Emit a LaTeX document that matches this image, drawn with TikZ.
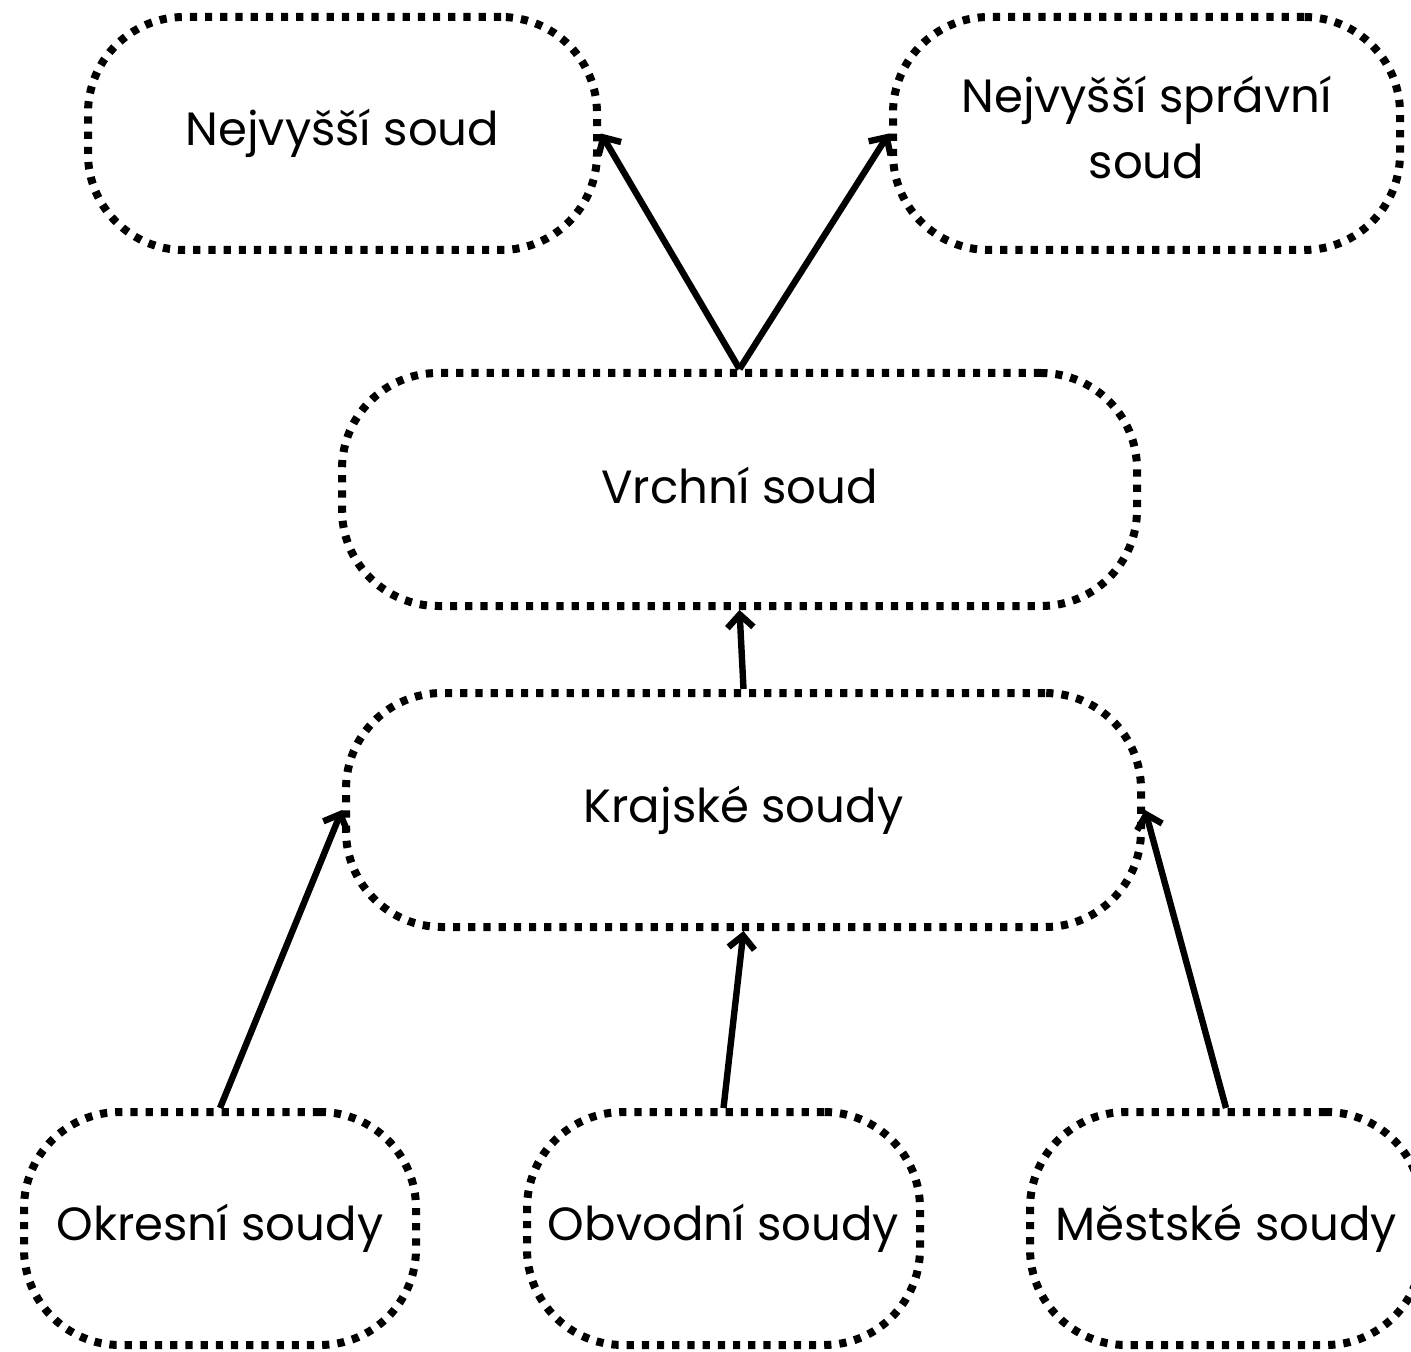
\documentclass[tikz,border=0pt]{standalone}
\usepackage{fontspec}
\setmainfont{Poppins}
\usetikzlibrary{arrows.meta}
\begin{document}
\begin{tikzpicture}[x=0.5pt,y=-0.5pt,
  court/.style={draw=black, line width=4pt, dash pattern=on 3.6pt off 4pt,
    rounded corners=48pt, inner sep=0pt, font=\fontsize{23.3}{33}\selectfont, align=center},
  link/.style={draw=black, line width=3.2pt, -{Straight Barb[length=6.5pt,width=13pt,line width=3.2pt]}}]
\useasboundingbox (0,0) rectangle (1411,1352);
\clip (0,0) rectangle (1411,1352);
\node[court, minimum width=254.5pt, minimum height=116.5pt] (ns) at (342.5,133.5) {Nejvyšší soud};
\node[court, minimum width=253.5pt, minimum height=116.5pt] (nss) at (1146.5,133.5) {};
\node[font=\fontsize{23.3}{33}\selectfont, align=center, inner sep=0pt] (nsst) at (1146.5,127) {Nejvyšší správní\\soud};
\node[court, minimum width=397.5pt, minimum height=116.5pt] (vr) at (739.5,489.5) {};
\node[font=\fontsize{23.3}{33}\selectfont, inner sep=0pt] (vrt) at (739.5,485.5) {Vrchní soud};
\node[court, minimum width=397.5pt, minimum height=117pt] (kr) at (743.5,810) {Krajské soudy};
\node[court, minimum width=196pt, minimum height=116.5pt] (ok) at (220,1228.5) {Okresní soudy};
\node[court, minimum width=196.5pt, minimum height=116.5pt] (ob) at (723.5,1228.5) {Obvodní soudy};
\node[court, minimum width=196pt, minimum height=116.5pt] (me) at (1226,1228.5) {Městské soudy};
\draw[link] (vr.north) -- (ns.east);
\draw[link] (vr.north) -- (nss.west);
\draw[link] (kr.north) -- (vr.south);
\draw[link] (ok.north) -- (kr.west);
\draw[link] (ob.north) -- (kr.south);
\draw[link] (me.north) -- (kr.east);
\end{tikzpicture}
\end{document}
